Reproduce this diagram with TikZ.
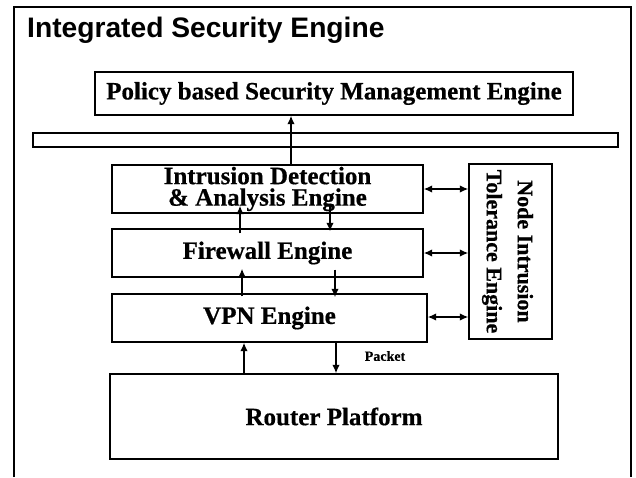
\documentclass[tikz,border=0pt]{standalone}
\usepackage{fontspec}
\setmainfont{Liberation Serif}[BoldFeatures={FakeBold=0.6}]
\newfontfamily\titlefont{Liberation Sans}
\usetikzlibrary{arrows.meta}
\begin{document}
\begin{tikzpicture}[x=1pt,y=1pt,
  box/.style={draw, line width=1.2pt, inner sep=0pt, align=center,
    font=\fontsize{25}{21.5}\selectfont\bfseries},
  arr/.style={line width=2pt, -{Latex[length=8.5pt,width=7.5pt]}},
  biarr/.style={line width=2pt, {Latex[length=8.5pt,width=7.5pt]}-{Latex[length=8.5pt,width=7.5pt]}}]
\useasboundingbox (0,0) rectangle (636,-477);
% outer frame (open at bottom)
\draw[line width=1.2pt] (14,-477) -- (14,-7) -- (631,-7) -- (631,-477);
% title
\node[anchor=base west, inner sep=0pt, font=\titlefont\bfseries\fontsize{28.2}{30}\selectfont] (title) at (27,-37) {Integrated Security Engine};
% boxes
\node[box, minimum width=478, minimum height=43] (policy) at (334,-93.5) {Policy based Security Management Engine};
\node[box, minimum width=585, minimum height=14] (bar) at (325.5,-140) {};
\node[box, minimum width=311, minimum height=48] (ids) at (267.5,-189) {Intrusion Detection\\\& Analysis Engine};
\node[box, minimum width=311, minimum height=48] (fw) at (267.5,-253) {Firewall Engine};
\node[box, minimum width=315, minimum height=48] (vpn) at (269.5,-318) {VPN Engine};
\node[box, minimum width=83, minimum height=175] (nit) at (510.5,-251.5) {};
\node[rotate=-90, inner sep=0pt, align=center, font=\fontsize{22}{31}\selectfont\bfseries] (nittext) at ([xshift=-3pt]nit.center) {Node Intrusion\\Tolerance Engine};
\node[box, minimum width=448, minimum height=85] (router) at (334,-416.5) {Router Platform};
\node[font=\fontsize{14}{16}\selectfont\bfseries, inner sep=0pt] (pkt) at (385,-356) {Packet};
% column coordinates
\coordinate (c0) at (291,0);
% arrows
\draw[arr] (ids.north -| c0) -- (policy.south -| c0);
\draw[arr] ([xshift=-27.5pt,yshift=-5pt]fw.north) -- ([xshift=-27.5pt,yshift=8pt]ids.south);
\draw[arr] ([xshift=62.5pt,yshift=8pt]ids.south) -- ([xshift=62.5pt,yshift=-3pt]fw.north);
\draw[arr] ([xshift=-27.5pt,yshift=-3pt]vpn.north) -- ([xshift=-25.5pt,yshift=9pt]fw.south);
\draw[arr] ([xshift=67.5pt,yshift=8pt]fw.south) -- ([xshift=65.5pt,yshift=-4pt]vpn.north);
\draw[arr] ([xshift=-90pt]router.north) -- ([xshift=-25.5pt]vpn.south);
\draw[arr] ([xshift=66.5pt]vpn.south) -- ([xshift=2pt]router.north);
% bidirectional arrows
\draw[biarr] (ids.east) -- (ids.east -| nit.west);
\draw[biarr] (fw.east) -- (fw.east -| nit.west);
\draw[biarr] ([yshift=1pt]vpn.east) -- ([yshift=1pt]vpn.east -| nit.west);
\end{tikzpicture}
\end{document}
